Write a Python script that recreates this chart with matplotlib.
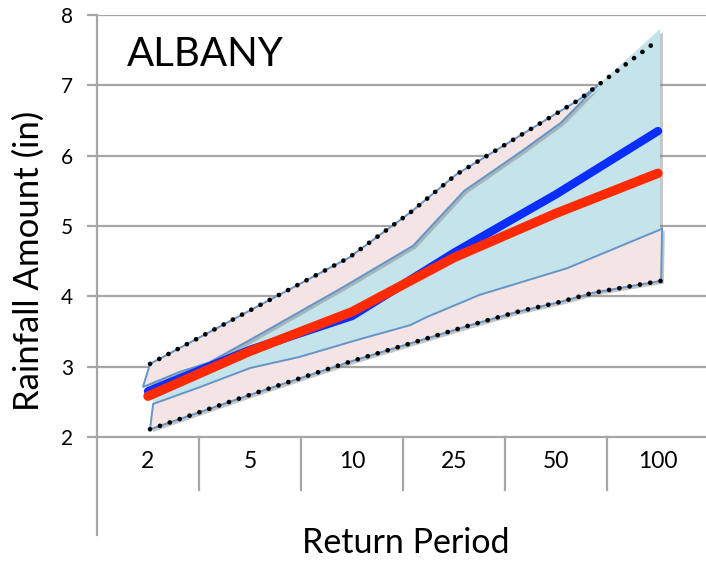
import matplotlib
matplotlib.use("Agg")
import matplotlib.pyplot as plt
import matplotlib.patheffects as pe
import numpy as np

plt.rcParams['font.family'] = ['Lato', 'DejaVu Sans']

periodos = ["2", "5", "10", "25", "50", "100"]
central_azul = [2.65, 3.24, 3.72, 4.62, 5.45, 6.35]
central_rojo = [2.58, 3.22, 3.78, 4.55, 5.18, 5.75]

# bordes de las bandas (x en posiciones de categoria)
sup_ext_x = [0.02, 1.0, 1.97, 2.57, 3.02, 3.63, 4.22, 4.41]
sup_ext_y = [3.04, 3.80, 4.55, 5.19, 5.73, 6.27, 6.79, 7.00]
sup_int_x = [-0.05, 0.3, 0.6, 1.0, 1.9, 2.6, 3.1, 3.65, 4.05, 4.41]
sup_int_y = [2.71, 2.92, 3.06, 3.38, 4.12, 4.72, 5.50, 6.05, 6.47, 7.00]
punteado_sup_x = sup_ext_x + [4.98]
punteado_sup_y = sup_ext_y + [7.62]
azul_tope_x = [5.02, 5.02]
azul_tope_y = [7.80, 4.98]

inf_int_x = [0.05, 0.51, 1.0, 1.49, 2.05, 2.57, 2.74, 3.25, 4.11, 5.04]
inf_int_y = [2.47, 2.71, 2.98, 3.14, 3.38, 3.59, 3.71, 4.02, 4.40, 4.96]
inf_ext_x = [0.02, 1.0, 2.0, 2.57, 3.16, 3.62, 4.04, 4.36, 5.03]
inf_ext_y = [2.11, 2.60, 3.08, 3.33, 3.59, 3.78, 3.92, 4.05, 4.22]

rosa = '#F4E4E3'
celeste = '#C4E3EB'
borde = '#6594C8'
gris = '#A6A6A6'

fig = plt.figure(figsize=(7.06, 5.61), dpi=100)
ax = fig.add_axes([97/706, 124/561, 612/706, 422/561])
ax.set_xlim(-0.5, 5.5)
ax.set_ylim(2, 8)

sombra = [pe.SimplePatchShadow(offset=(2, -2), shadow_rgbFace='#808080', alpha=0.45), pe.Normal()]

# region celeste
cx = sup_ext_x + azul_tope_x + inf_int_x[::-1]
cy = sup_ext_y + azul_tope_y + inf_int_y[::-1]
ax.fill(cx, cy, color=celeste, lw=0, zorder=2, path_effects=sombra)

# bandas rosadas
ux = sup_ext_x + sup_int_x[::-1]
uy = sup_ext_y + sup_int_y[::-1]
ax.fill(ux, uy, facecolor=rosa, edgecolor=borde, lw=1.4, zorder=4, path_effects=sombra)
lx = inf_int_x + inf_ext_x[::-1]
ly = inf_int_y + inf_ext_y[::-1]
ax.fill(lx, ly, facecolor=rosa, edgecolor=borde, lw=1.4, zorder=4, path_effects=sombra)

# lineas punteadas
ax.plot(punteado_sup_x, punteado_sup_y, color='black', lw=3.4, ls=(0, (0.01, 2.2)),
        dash_capstyle='round', zorder=4.5)
ax.plot(inf_ext_x, inf_ext_y, color='black', lw=3.4, ls=(0, (0.01, 2.2)),
        dash_capstyle='round', zorder=4.5)

x = np.arange(len(periodos))
ax.plot(x, central_azul, color='#0A2EFF', lw=6, solid_capstyle='round', zorder=5)
ax.plot(x, central_rojo, color='#FF2A00', lw=6.8, solid_capstyle='round', zorder=6)

# rejilla y ejes
for v in range(3, 9):
    ax.axhline(v, color=gris, lw=1.6, zorder=1)
for s in ['top', 'right', 'bottom']:
    ax.spines[s].set_visible(False)
ax.spines['left'].set_color(gris)
ax.spines['left'].set_linewidth(1.6)
ax.axhline(2, color=gris, lw=1.6, zorder=1, clip_on=False)

ax.set_yticks(range(2, 9))
ax.tick_params(axis='y', length=7, width=1.6, color=gris, labelsize=15, pad=10)
ax.set_xticks([])

# banda de categorias bajo el eje
t = ax.get_xaxis_transform()
for k in range(1, 7):
    ax.plot([k - 0.5, k - 0.5], [0, -53/422], color=gris, lw=1.6, transform=t, clip_on=False)
ax.plot([-0.5, -0.5], [0, -98/422], color=gris, lw=1.6, transform=t, clip_on=False)
for i, p in enumerate(periodos):
    ax.text(i, -24/422, p, transform=t, ha='center', va='center', fontsize=16.5)

ax.text(30/612, (437-55)/422, "ALBANY", transform=ax.transAxes, fontsize=29,
        ha='left', va='center')
fig.text(406/706, 1 - 543/561, "Return Period", ha='center', va='center', fontsize=24.5)
fig.text(29/706, 1 - 261/561, "Rainfall Amount (in)", ha='center', va='center',
         fontsize=25, rotation=90)

fig.savefig("out.png", dpi=100)
